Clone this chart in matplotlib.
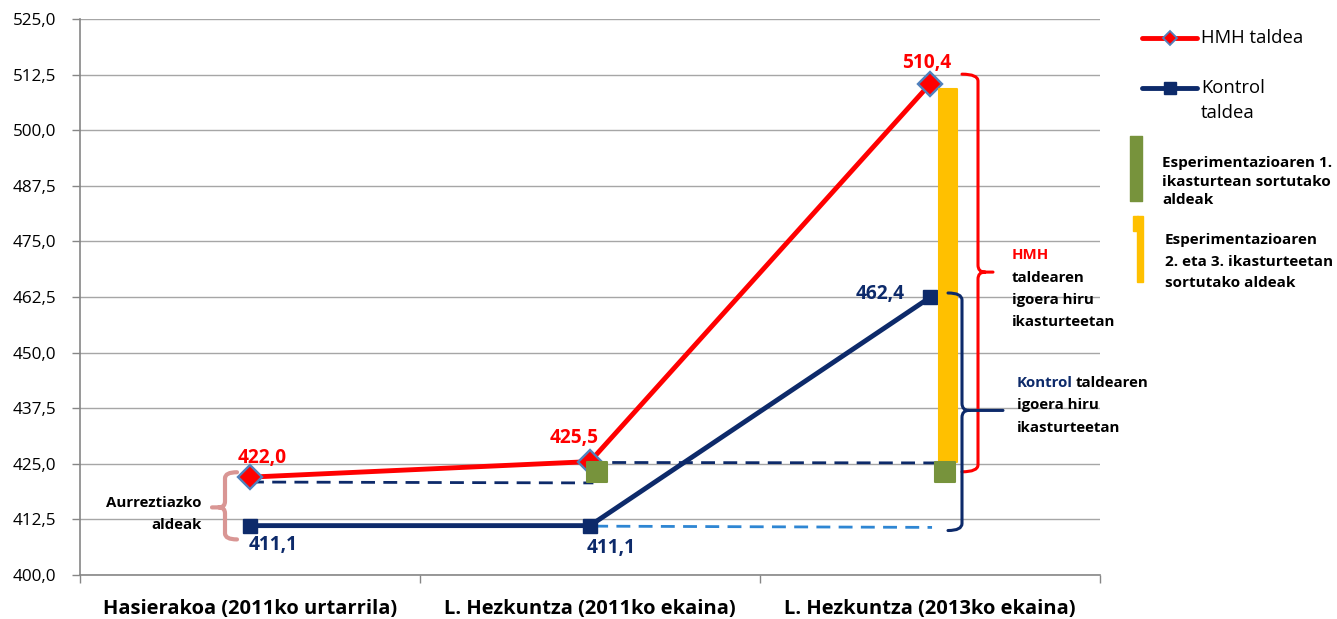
import matplotlib
matplotlib.use('Agg')
import matplotlib.pyplot as plt
from matplotlib.path import Path
from matplotlib.patches import PathPatch, Rectangle
from matplotlib.lines import Line2D

plt.rcParams['font.family'] = ['Open Sans', 'DejaVu Sans']

# ---------------- data ----------------
categories = ['Hasierakoa (2011ko urtarrila)', 'L. Hezkuntza (2011ko ekaina)',
              'L. Hezkuntza (2013ko ekaina)']
hmh = [422.0, 425.5, 510.4]
kontrol = [411.1, 411.1, 462.4]
hmh_labels = ['422,0', '425,5', '510,4']
kontrol_labels = ['411,1', '411,1', '462,4']
yticks = [400.0, 412.5, 425.0, 437.5, 450.0, 462.5, 475.0, 487.5, 500.0, 512.5, 525.0]
ytick_labels = ['400,0', '412,5', '425,0', '437,5', '450,0', '462,5',
                '475,0', '487,5', '500,0', '512,5', '525,0']

green_pos = [1.02, 2.044]
green_bottom = [420.8, 420.8]
green_top = [425.5, 425.5]
yellow_pos = [2.053]
yellow_bottom = [425.5]
yellow_top = [509.3]

dash1_x, dash1_y = [0.0, 1.01], [420.9, 420.7]
dash2_x, dash2_y = [1.0, 2.015], [425.3, 425.2]
dash3_x, dash3_y = [0.947, 2.006], [411.0, 410.7]

legend_texts = ['HMH taldea', 'Kontrol\ntaldea',
                'Esperimentazioaren 1.\nikasturtean sortutako\naldeak',
                'Esperimentazioaren\n2. eta 3. ikasturteetan\nsortutako aldeak']

# ---------------- colours ----------------
RED = '#FF0000'
NAVY = '#0D2A6A'
GREEN = '#77933C'
YELLOW = '#FFC000'
LBLUE = '#2E86D3'
PINK = '#D99694'
GRID = '#A6A6A6'
AXC = '#868686'

W, H = 1337, 619
fig = plt.figure(figsize=(W / 100, H / 100), dpi=100)
ax = fig.add_axes([80 / W, 1 - 575 / H, 1020 / W, 556 / H])
ax.set_xlim(-0.5, 2.5)
ax.set_ylim(400, 525)

# grid / axes
ax.set_yticks(yticks)
ax.set_yticklabels(ytick_labels, fontsize=12.3)
ax.yaxis.grid(True, color=GRID, lw=1.0)
ax.set_axisbelow(True)
for s in ['top', 'right']:
    ax.spines[s].set_visible(False)
for s in ['left', 'bottom']:
    ax.spines[s].set_color(AXC)
    ax.spines[s].set_linewidth(1.2)
ax.tick_params(axis='y', length=6, color=AXC, pad=11, width=1)
ax.set_xticks([-0.5, 0.5, 1.5, 2.5])
ax.set_xticklabels([])
ax.tick_params(axis='x', which='major', length=6, color=AXC, width=1)
ax.set_xticks([0, 1, 2], minor=True)
ax.set_xticklabels(categories, minor=True, fontsize=14.5, fontweight='bold')
ax.tick_params(axis='x', which='minor', length=0, pad=17)

x = [0, 1, 2]
# dashed helper lines
ax.plot(dash1_x, dash1_y, color=NAVY, lw=2, ls=(0, (5, 3)), zorder=2)
ax.plot(dash2_x, dash2_y, color=NAVY, lw=2, ls=(0, (5, 3)), zorder=2)
ax.plot(dash3_x, dash3_y, color=LBLUE, lw=2, ls=(0, (5, 3)), zorder=2)

# series
ax.plot(x, kontrol, color=NAVY, lw=3.5, marker='s', ms=10.5, mfc=NAVY, mec=NAVY, zorder=3)
ax.plot(x, hmh, color=RED, lw=3.5, marker='D', ms=12, mfc=RED, mec='#4F81BD', mew=1.7, zorder=4)

# bars (slightly rounded through a round-joined edge of the same colour)
ax.bar(yellow_pos, [t - b for t, b in zip(yellow_top, yellow_bottom)], bottom=yellow_bottom,
       width=0.055, color=YELLOW, edgecolor=YELLOW, lw=1.5, joinstyle='round', zorder=5)
ax.bar(green_pos, [t - b for t, b in zip(green_top, green_bottom)], bottom=green_bottom,
       width=0.058, color=GREEN, edgecolor=GREEN, lw=1.5, joinstyle='round', zorder=6)

# data labels
lab_font = dict(fontsize=13.8, fontweight='bold')
ax.annotate(hmh_labels[0], (0, hmh[0]), xytext=(12, 19), textcoords='offset pixels',
            ha='center', va='center', color=RED, **lab_font)
ax.annotate(hmh_labels[1], (1, hmh[1]), xytext=(-16, 24), textcoords='offset pixels',
            ha='center', va='center', color=RED, **lab_font)
ax.annotate(hmh_labels[2], (2, hmh[2]), xytext=(-3, 21), textcoords='offset pixels',
            ha='center', va='center', color=RED, **lab_font)
ax.annotate(kontrol_labels[0], (0, kontrol[0]), xytext=(23, -19), textcoords='offset pixels',
            ha='center', va='center', color=NAVY, **lab_font)
ax.annotate(kontrol_labels[1], (1, kontrol[1]), xytext=(21, -22), textcoords='offset pixels',
            ha='center', va='center', color=NAVY, **lab_font)
ax.annotate(kontrol_labels[2], (2, kontrol[2]), xytext=(-50, 3), textcoords='offset pixels',
            ha='center', va='center', color=NAVY, **lab_font)

# ---------------- overlay (pixel coordinates) ----------------
ov = fig.add_axes([0, 0, 1, 1])
ov.set_xlim(0, W)
ov.set_ylim(H, 0)
ov.axis('off')


def to_px(xv, yv):
    dx, dy = ax.transData.transform((xv, yv))
    return dx, H - dy


def brace(hx, sx, tx, yt, ym, yb, color, r=7, lw=2.2):
    d = 1 if tx > sx else -1
    verts = [(hx, yt), (sx, yt), (sx, yt + r),
             (sx, ym - r), (sx, ym), (sx + d * r, ym),
             (tx, ym), (sx + d * r, ym), (sx, ym), (sx, ym + r),
             (sx, yb - r), (sx, yb), (hx, yb)]
    codes = [Path.MOVETO, Path.CURVE3, Path.CURVE3,
             Path.LINETO, Path.CURVE3, Path.CURVE3,
             Path.LINETO, Path.MOVETO, Path.CURVE3, Path.CURVE3,
             Path.LINETO, Path.CURVE3, Path.CURVE3]
    ov.add_patch(PathPatch(Path(verts, codes), fill=False, edgecolor=color, lw=lw,
                           capstyle='round', joinstyle='round'))


# red brace (HMH growth)
_, yt = to_px(0, 512.6)
_, yb = to_px(0, 423.2)
_, ym = to_px(0, 468.1)
brace(962, 978, 993, yt, ym, yb, RED)
# navy brace (Kontrol growth)
_, yt = to_px(0, 463.4)
_, yb = to_px(0, 410.0)
_, ym = to_px(0, 437.0)
brace(948, 962, 1003, yt, ym, yb, NAVY)
# pink brace (initial difference)
_, yt = to_px(0, 423.1)
_, yb = to_px(0, 408.0)
_, ym = to_px(0, 415.2)
brace(237, 225, 212, yt, ym, yb, PINK, r=6, lw=3)

bold = dict(fontsize=10.8, fontweight='bold', va='center')
ov.text(202, 503, 'Aurreztiazko', ha='right', **bold)
ov.text(202, 525, 'aldeak', ha='right', **bold)

ov.text(1012, 255, 'HMH', ha='left', color=RED, **bold)
for i, t in enumerate(['taldearen', 'igoera hiru', 'ikasturteetan']):
    ov.text(1012, 278 + 22 * i, t, ha='left', color='black', **bold)

t1 = ov.text(1017, 383, 'Kontrol', ha='left', color=NAVY, **bold)
fig.canvas.draw()
bb = t1.get_window_extent()
ov.text(1017 + bb.width + 3, 383, 'taldearen', ha='left', color='black', **bold)
ov.text(1017, 405, 'igoera hiru', ha='left', color='black', **bold)
ov.text(1017, 428, 'ikasturteetan', ha='left', color='black', **bold)

# ---------------- legend ----------------
ov.add_line(Line2D([1142, 1197], [38, 38], color=RED, lw=3.5, solid_capstyle='round'))
ov.plot([1170], [38], marker='D', ms=7, mfc=RED, mec='#4F81BD', mew=1.3)
ov.text(1201, 38, legend_texts[0], ha='left', va='center', fontsize=13.3)

ov.add_line(Line2D([1142, 1197], [88, 88], color=NAVY, lw=3.5, solid_capstyle='round'))
ov.plot([1170], [88], marker='s', ms=9, mfc=NAVY, mec=NAVY)
ov.text(1201, 88, legend_texts[1].split('\n')[0], ha='left', va='center', fontsize=13.3)
ov.text(1201, 113, legend_texts[1].split('\n')[1], ha='left', va='center', fontsize=13.3)

ov.add_patch(Rectangle((1130, 136), 12, 65, facecolor=GREEN, edgecolor=GREEN, lw=1,
                       joinstyle='round'))
for i, t in enumerate(legend_texts[2].split('\n')):
    ov.text(1162, 163 + 18.5 * i, t, ha='left', va='center', fontsize=11, fontweight='bold')

ov.add_patch(Rectangle((1137, 216), 6, 66, color=YELLOW))
ov.add_patch(Rectangle((1133, 216), 5, 15, color=YELLOW))
for i, t in enumerate(legend_texts[3].split('\n')):
    ov.text(1165, 240 + 21.5 * i, t, ha='left', va='center', fontsize=11, fontweight='bold')

fig.savefig('out.png', dpi=100)
